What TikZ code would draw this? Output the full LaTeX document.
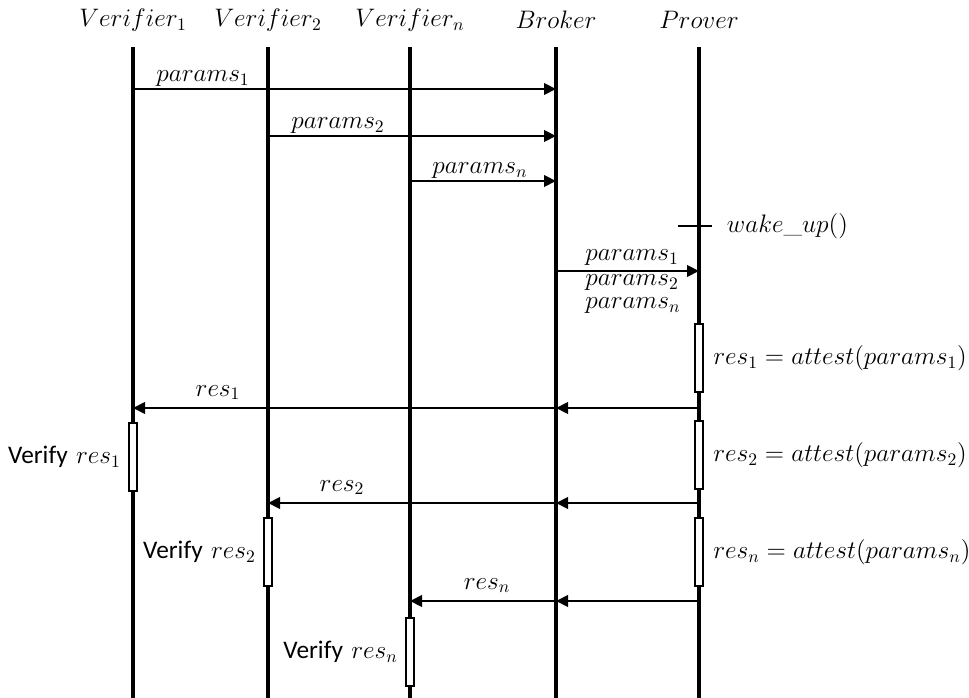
\documentclass[tikz,border=0pt]{standalone}
\usepackage{fontspec}
\newfontfamily\calib{Carlito}
\usepackage{tikz}
\usetikzlibrary{positioning,arrows.meta}

\begin{document}
\begin{tikzpicture}[x=1mm,y=1mm,font=\Large,
  life/.style={line width=2pt},
  msg/.style={line width=1.2pt,-{Triangle[length=2.4mm,width=2.3mm]}},
  act/.style={draw,line width=1.2pt,fill=white,minimum width=1.6mm,minimum height=13.6mm,inner sep=0pt},
  lbl/.style={inner sep=1pt}]
  \useasboundingbox (0,0) rectangle (193.8,-139.6);
  \node (v1) at (26.6,-4) {$Verifier_1$};
  \node (v2) at (53.6,-4) {$Verifier_2$};
  \node (vn) at (82,-4) {$Verifier_n$};
  \node (br) at (111.2,-4) {$Broker$};
  \node (pr) at (139.8,-4) {$Prover$};
  \coordinate (top) at (0,-9.4);
  \coordinate (bot) at (0,-139.6);
  \foreach \l in {v1,v2,vn,br,pr} \draw[life] (\l |- top) -- (\l |- bot);
  % message rows
  \coordinate (m1) at (0,-17.8);
  \coordinate (m2) at (0,-27.2);
  \coordinate (m3) at (0,-36.2);
  \coordinate (wk) at (0,-45.2);
  \coordinate (m4) at (0,-54.2);
  \coordinate (r1) at (0,-81.6);
  \coordinate (r2) at (0,-100.6);
  \coordinate (rn) at (0,-120.2);
  \foreach \a/\r/\t in {v1/m1/1,v2/m2/2,vn/m3/n} {
    \draw[msg] (\a |- \r) -- (br |- \r);
    \path (\a |- \r) ++(14,0) node[lbl,above] {$params_\t$};
  }
  \draw[line width=1.2pt] (pr |- wk) +(-4.2,0) -- +(2.6,0) node[right=1.6mm] {$wake\_up()$};
  \draw[msg] (br |- m4) -- (pr |- m4);
  \path (br |- m4) ++(5.8,2.6) node[right,inner sep=0pt] {$params_1$}
    ++(0,-5) node[right,inner sep=0pt] {$params_2$}
    ++(0,-4.6) node[right,inner sep=0pt] {$params_n$};
  % activations
  \node[act,above=3mm] (pa1) at (pr |- r1) {};
  \node[act,above=2.6mm] (pa2) at (pr |- r2) {};
  \node[act,above=2.8mm] (pa3) at (pr |- rn) {};
  \node[act,below=2.8mm] (va1) at (v1 |- r1) {};
  \node[act,below=2.8mm] (va2) at (v2 |- r2) {};
  \node[act,below=3.2mm] (va3) at (vn |- rn) {};
  \node[right=0.6mm of pa1] {$res_1 = attest(params_1)$};
  \node[right=0.6mm of pa2] {$res_2 = attest(params_2)$};
  \node[right=0.6mm of pa3] {$res_n = attest(params_n)$};
  \node[left=0.2mm of va1] {{\calib Verify} $res_1$};
  \node[left=0.2mm of va2] {{\calib Verify} $res_2$};
  \node[left=0.2mm of va3] {{\calib Verify} $res_n$};
  \foreach \a/\r/\t/\o in {v1/r1/1/17,v2/r2/2/14.8,vn/rn/n/15.4} {
    \draw[msg] (pr |- \r) -- (br |- \r);
    \draw[msg] (br |- \r) -- (\a |- \r);
    \path (\a |- \r) ++(\o,0) node[lbl,above=1.2mm] {$res_\t$};
  }
\end{tikzpicture}
\end{document}
